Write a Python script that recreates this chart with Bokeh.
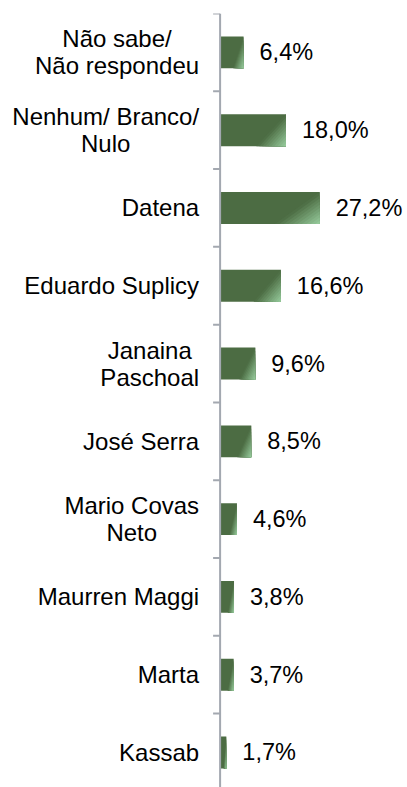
import math
from bokeh.plotting import figure
from bokeh.models import Range1d, ColumnDataSource
from bokeh.core.properties import value
from bokeh.embed import file_html
from bokeh.resources import INLINE

# ---- data (top to bottom) ----
categories = [
    "Não sabe/\nNão respondeu",
    "Nenhum/ Branco/\nNulo",
    "Datena",
    "Eduardo Suplicy",
    "Janaina\nPaschoal",
    "José Serra",
    "Mario Covas\nNeto",
    "Maurren Maggi",
    "Marta",
    "Kassab",
]
percentages = [6.4, 18.0, 27.2, 16.6, 9.6, 8.5, 4.6, 3.8, 3.7, 1.7]
value_labels = [f"{v:.1f}".replace(".", ",") + "%" for v in percentages]

n = len(categories)
idx = list(range(n))

FONT = "Liberation Sans"
BAR_H = 0.41
DARK = (76, 108, 67)
LIGHT = (152, 205, 158)
AXIS_COL = "#a3a8b0"

p = figure(
    width=407, height=787,
    x_range=Range1d(-60.0, 51.2),
    y_range=Range1d(n - 0.55, -0.5),
    output_backend="svg", toolbar_location=None,
    x_axis_location=None, y_axis_location=None,
    min_border_left=0, min_border_right=0,
    min_border_top=13, min_border_bottom=0,
)
p.outline_line_color = None
p.xgrid.visible = False
p.ygrid.visible = False
p.background_fill_color = "white"
p.border_fill_color = "white"

# bars
src = ColumnDataSource(dict(y=idx, right=percentages))
p.hbar(y="y", left=0, right="right", height=BAR_H, source=src,
       fill_color="#4c6c43", line_color=None)

# gradient approximation: lighter bottom-right corner
steps = 10
t0, t1 = 1.0, 1.45
for k in range(steps):
    t = t0 + (t1 - t0) * k / steps
    f = (k + 0.5) / steps
    col = "#%02x%02x%02x" % tuple(int(DARK[c] + (LIGHT[c] - DARK[c]) * f) for c in range(3))
    xs, ys = [], []
    for i, v in zip(idx, percentages):
        top = i - BAR_H / 2
        v0 = (t - 1) / 0.45
        u_b = t - 0.45
        xs.append([v, v, v * u_b])
        ys.append([top + v0 * BAR_H, top + BAR_H, top + BAR_H])
    p.patches(xs, ys, fill_color=col, line_color=None)

# category axis: line and outward ticks at the category boundaries
boundaries = [i - 0.5 for i in range(n + 1)]
p.segment(x0=[0], y0=[boundaries[0]], x1=[0], y1=[boundaries[-1]],
          line_color=AXIS_COL, line_width=2)
p.ray(x=[0] * len(boundaries), y=boundaries, length=7, length_units="screen",
      angle=math.pi, line_color=AXIS_COL, line_width=2)

# value labels
p.text(x=percentages, y=idx, text=value_labels, x_offset=16,
       text_baseline="middle", text_align="left",
       text_font=value(FONT), text_font_size="23.5px", text_color="#000000")

# category labels (right-aligned block, centred lines)
p.text(x=[0] * n, y=idx, text=categories, x_offset=-21,
       anchor=value("center_right"), text_align="center", text_baseline="middle",
       text_font=value(FONT), text_font_size="24px", text_line_height=1.0,
       text_color="#000000")

open("out.html", "w").write(file_html(p, INLINE))
